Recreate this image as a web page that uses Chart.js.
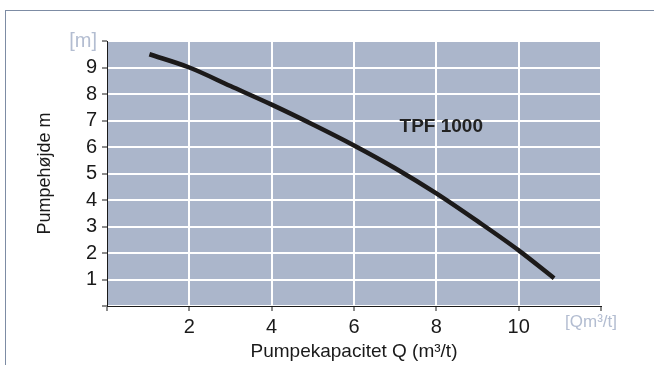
<!DOCTYPE html>
<html>
<head>
<meta charset="utf-8">
<script src="https://cdn.jsdelivr.net/npm/chart.js@4.4.1/dist/chart.umd.min.js"></script>
<style>
    html, body { margin: 0; padding: 0; background: #fff; }
    #wrap { position: relative; width: 654px; height: 365px; }
    #frame { position: absolute; left: 5px; top: 10px; right: 0; bottom: 0;
             border-left: 1px solid #7d8ca4; border-top: 1px solid #7d8ca4; }
    canvas { position: absolute; left: 0; top: 0; }
</style>
</head>
<body>
<div id="wrap">
    <div id="frame"></div>
    <canvas id="chart" width="654" height="365"></canvas>
</div>
<script>
// pumpekurve TPF 1000
const flow = [1.03, 2, 3, 4, 5, 6, 7, 8, 9, 10, 10.86];
const head = [9.5, 9.0, 8.3, 7.6, 6.85, 6.06, 5.2, 4.25, 3.2, 2.1, 1.05];
const curveLabel = "TPF 1000";
const xTitle = "Pumpekapacitet Q (m³/t)";
const yTitle = "Pumpehøjde m";
const xUnit = "[Qm³/t]";
const yUnit = "[m]";

const fontFam = "'Liberation Sans', Arial, sans-serif";
const unitColor = "#b3bdd1";

const bgPlugin = {
    id: "plotBg",
    beforeDraw(chart) {
        const { ctx, chartArea: a } = chart;
        ctx.save();
        ctx.fillStyle = "#abb6cb";
        ctx.fillRect(a.left, a.top, a.right - a.left, a.bottom - a.top);
        ctx.restore();
    },
    afterDatasetsDraw(chart) {
        const { ctx, scales } = chart;
        ctx.save();
        ctx.fillStyle = "#222";
        ctx.font = "bold 19px " + fontFam;
        ctx.textAlign = "center";
        ctx.textBaseline = "middle";
        ctx.fillText(curveLabel, scales.x.getPixelForValue(8.12), scales.y.getPixelForValue(6.78));
        // enhed for x-aksen, lidt til venstre for sidste tick
        ctx.fillStyle = unitColor;
        ctx.font = "17px " + fontFam;
        ctx.textAlign = "right";
        ctx.fillText(xUnit, scales.x.right + 16, scales.x.top + 16);
        ctx.restore();
    }
};

new Chart(document.getElementById("chart").getContext("2d"), {
    type: "line",
    data: {
        datasets: [{
            data: flow.map((q, i) => ({ x: q, y: head[i] })),
            borderColor: "#1c1a1a",
            borderWidth: 4.5,
            pointRadius: 0,
            cubicInterpolationMode: "monotone",
            fill: false
        }]
    },
    options: {
        responsive: false,
        animation: false,
        layout: { padding: { left: 0, right: 53, top: 41, bottom: 0 } },
        plugins: { legend: { display: false }, tooltip: { enabled: false } },
        scales: {
            x: {
                type: "linear",
                min: 0, max: 12,
                afterFit: s => { s.height = 59; },
                ticks: {
                    stepSize: 2,
                    autoSkip: false,
                    maxRotation: 0,
                    padding: 4,
                    font: { family: fontFam, size: 20 },
                    color: "#1a1a1a",
                    callback: v => (v === 0 || v === 12) ? "" : v
                },
                grid: { color: "#ffffff", lineWidth: 2, tickColor: "#1a1a1a", tickLength: 5, tickWidth: 1 },
                border: { color: "#1a1a1a", width: 1 },
                title: {
                    display: true, text: xTitle, color: "#1a1a1a",
                    font: { family: fontFam, size: 19 },
                    padding: { top: 0, bottom: 2 }
                }
            },
            y: {
                min: 0, max: 10,
                afterFit: s => { s.width = 107; },
                ticks: {
                    stepSize: 1,
                    autoSkip: false,
                    padding: 5,
                    font: { family: fontFam, size: 20 },
                    color: c => c.tick && c.tick.value === 10 ? unitColor : "#1a1a1a",
                    callback: v => v === 0 ? "" : (v === 10 ? yUnit : v)
                },
                grid: { color: "#ffffff", lineWidth: 2, tickColor: "#1a1a1a", tickLength: 5, tickWidth: 1 },
                border: { color: "#1a1a1a", width: 1 },
                title: {
                    display: true, text: yTitle, color: "#1a1a1a",
                    font: { family: fontFam, size: 18 },
                    padding: { top: 34, bottom: 0 }
                }
            }
        }
    },
    plugins: [bgPlugin]
});
</script>
</body>
</html>
